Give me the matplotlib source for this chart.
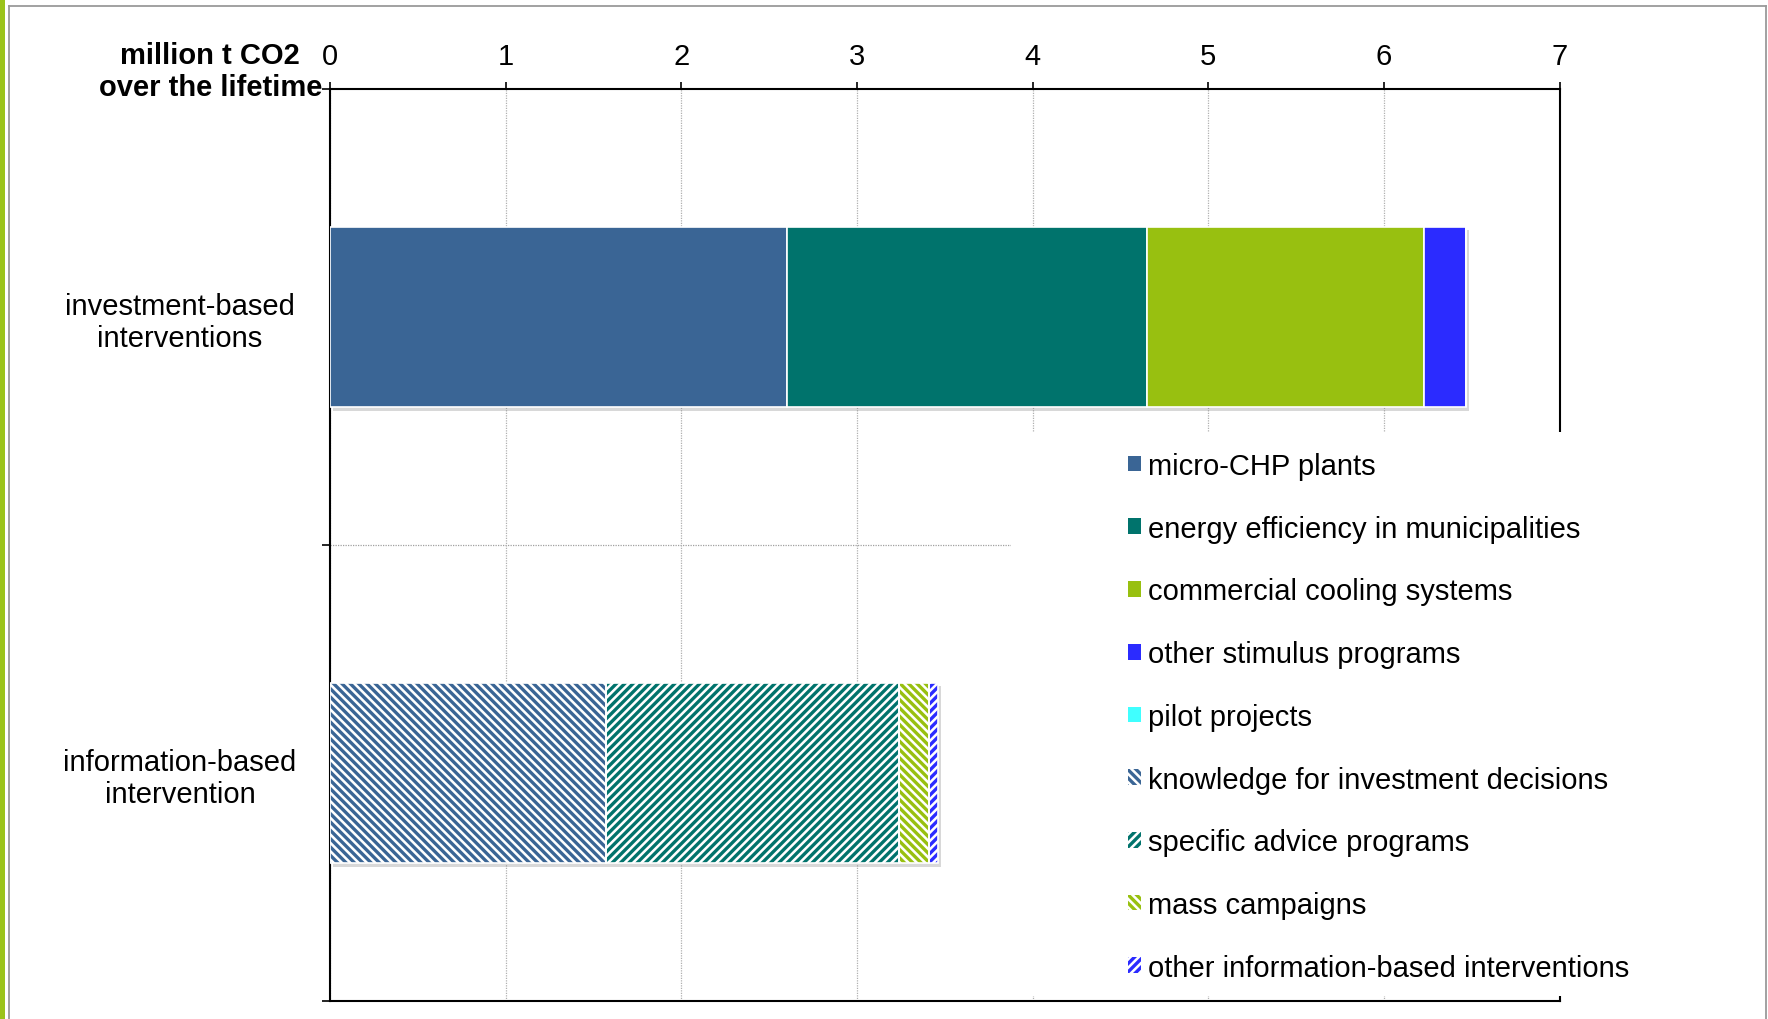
import matplotlib.pyplot as plt
import numpy as np
from matplotlib.patches import Patch, Rectangle
from matplotlib.lines import Line2D
from matplotlib.transforms import ScaledTranslation

plt.rcParams['font.family'] = ['Liberation Sans', 'DejaVu Sans']
plt.rcParams['hatch.linewidth'] = 2.4

# categories (top to bottom) and stacked series
categories = ['investment-based\ninterventions', 'information-based\nintervention']
series = ['micro-CHP plants', 'energy efficiency in municipalities',
          'commercial cooling systems', 'other stimulus programs', 'pilot projects',
          'knowledge for investment decisions', 'specific advice programs',
          'mass campaigns', 'other information-based interventions']
investment = [2.60, 2.05, 1.58, 0.235, 0.0, 0.0, 0.0, 0.0, 0.0]
information = [0.0, 0.0, 0.0, 0.0, 0.0, 1.57, 1.67, 0.17, 0.05]
colors = ['#3a6595', '#00736c', '#98c010', '#2b2bff', '#40ffff',
          '#3a6595', '#00736c', '#98c010', '#2b2bff']
hatches = [None, None, None, None, None, '\\\\\\\\', '////', '\\\\\\\\', '////']
xticks = [0, 1, 2, 3, 4, 5, 6, 7]

fig = plt.figure(figsize=(17.68, 10.2), dpi=100)
ax = fig.add_axes([330 / 1768, 18 / 1020, 1229.5 / 1768, 912 / 1020])

y = np.arange(len(categories))
values = np.array([investment, information])
bar_h = 0.395

# soft shadow behind each stacked bar
shadow = ax.transData + ScaledTranslation(2.5 / 72, -2.5 / 72, fig.dpi_scale_trans)
ax.barh(y, values.sum(axis=1), bar_h, color='#808080', alpha=0.3,
        transform=shadow, zorder=2, linewidth=0)

left = np.zeros(len(categories))
for i, name in enumerate(series):
    w = values[:, i]
    if hatches[i] is None:
        ax.barh(y, w, bar_h, left=left, color=colors[i], edgecolor='white',
                linewidth=1.2, zorder=3)
    else:
        ax.barh(y, w, bar_h, left=left, facecolor='white', edgecolor=colors[i],
                hatch=hatches[i], linewidth=0, zorder=3)
        ax.barh(y, w, bar_h, left=left, fill=False, edgecolor='white',
                linewidth=1.2, zorder=4)
    left += w

ax.set_xlim(0, 7)
ax.set_ylim(1.5, -0.5)

# value axis on top
ax.xaxis.tick_top()
ax.set_xticks(xticks)
ax.tick_params(axis='x', which='major', direction='out', length=5, width=1.2,
               labelsize=21, pad=9, top=True, bottom=False)
ax.grid(axis='x', color='#b0b0b0', linestyle=(0, (1, 1)), linewidth=0.9, zorder=0)

# category labels centred left of the axis, boundary ticks as minor ticks
ax.set_yticks(y)
ax.set_yticklabels(categories, fontsize=21, linespacing=1.2)
ax.set_yticks([-0.5, 0.5, 1.5], minor=True)
ax.tick_params(axis='y', which='major', length=0, pad=108)
ax.tick_params(axis='y', which='minor', length=6, width=1.2, direction='out')
for lab in ax.get_yticklabels():
    lab.set_ha('center')
    lab.set_multialignment('center')
ax.axhline(0.5, color='#a0a0a0', linestyle=(0, (1, 1)), linewidth=0.9, zorder=0)

for sp in ax.spines.values():
    sp.set_color('black')
    sp.set_linewidth(1.5)

fig.text(322 / 1768, 1 - 72 / 1020, 'million t CO2\nover the lifetime',
         ha='right', va='center', fontsize=21, fontweight='bold',
         multialignment='center', linespacing=1.2)

# white panel under the legend
fig.add_artist(Rectangle((1011 / 1768, 1 - 997 / 1020), 700 / 1768, 564 / 1020,
                         transform=fig.transFigure, facecolor='white',
                         edgecolor='none', zorder=5))

handles = [Patch(facecolor=colors[i], edgecolor='none', label=series[i])
           if hatches[i] is None else
           Patch(facecolor='white', edgecolor=colors[i], hatch=hatches[i],
                 linewidth=0, label=series[i])
           for i in range(len(series))]
leg = fig.legend(handles=handles, loc='upper left',
                 bbox_to_anchor=(1128 / 1768, 1 - 453 / 1020),
                 frameon=False, fontsize=21, handlelength=0.45, handleheight=0.45,
                 handletextpad=0.25, labelspacing=1.19, borderpad=0,
                 borderaxespad=0)
leg.set_zorder(6)

# page decoration: green strip and grey border
fig.add_artist(Rectangle((0, 0), 4.5 / 1768, 1, transform=fig.transFigure,
                         facecolor='#9bc31a', edgecolor='none', zorder=7))
for xs, ys in [([8.5, 8.5], [1020, 7]), ([8.5, 1766], [7, 7]), ([1766, 1766], [7, 1020])]:
    fig.add_artist(Line2D([v / 1768 for v in xs], [1 - v / 1020 for v in ys],
                          transform=fig.transFigure, color='#9a9a9a',
                          linewidth=1.3, zorder=7))

fig.savefig('out.png', dpi=100)
